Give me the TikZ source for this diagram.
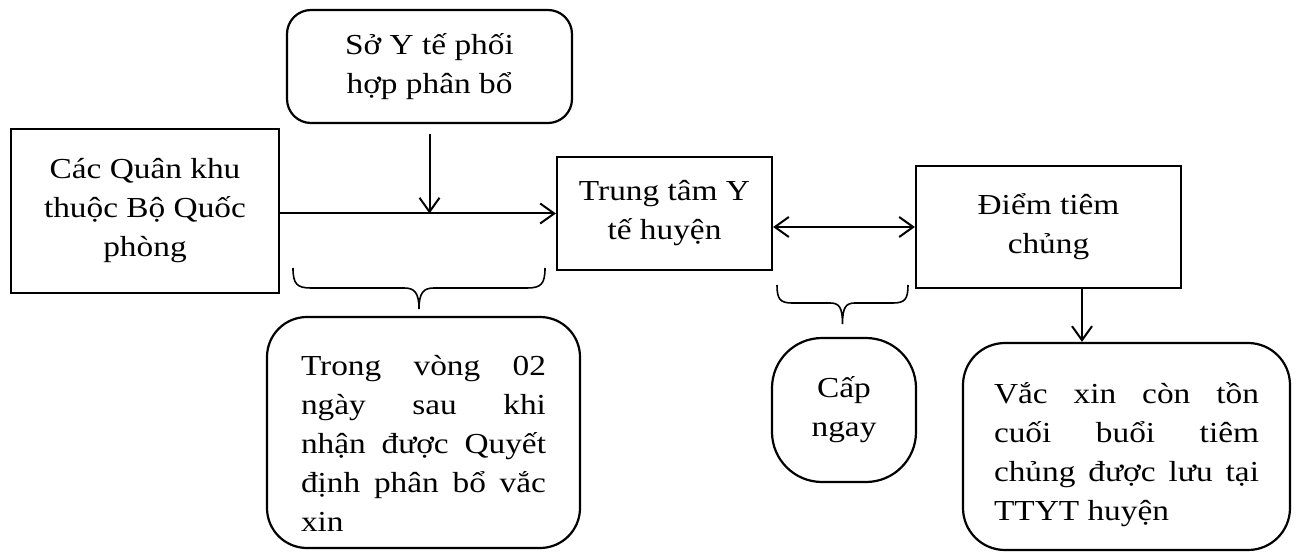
\documentclass[tikz,border=0pt]{standalone}
\usepackage{fontspec}
\setmainfont{Liberation Serif}[FakeStretch=1.15]
\usetikzlibrary{arrows.meta}
\begin{document}
\begin{tikzpicture}[x=1pt,y=-1pt,
  every node/.style={font=\fontsize{29}{39}\selectfont, inner sep=0pt, line width=2.2pt},
  sqbox/.style={draw, rectangle, align=center},
  rbox/.style={draw, rectangle, rounded corners=#1},
  tipv/.tip={Straight Barb[length=14pt,width=20pt,line width=2pt]},
  arr/.style={line width=2pt, -tipv},
  arrboth/.style={line width=2pt, tipv-tipv},
  bracestyle/.style={line width=1.6pt}
]
\useasboundingbox (0,0) rectangle (1299,556);

\node[rbox=24pt, align=center, minimum width=285pt, minimum height=113pt] (s) at (429.5,66.5) {Sở Y tế phối\\hợp phân bổ};
\node[sqbox, minimum width=268pt, minimum height=164pt] (q) at (145,211) {Các Quân khu\\thuộc Bộ Quốc\\phòng};
\node[sqbox, minimum width=215pt, minimum height=113pt] (t) at (664.5,213.5) {Trung tâm Y\\tế huyện};
\node[sqbox, minimum width=265pt, minimum height=122pt] (d) at (1048.5,227) {Điểm tiêm\\chủng};
\node[rbox=40pt, minimum width=313pt, minimum height=231pt] (w) at (423.5,432.5)
  {\raisebox{-19pt}[0pt][0pt]{\begin{tabular}{@{}l@{}}
   \makebox[245pt][s]{Trong vòng 02}\\
   \makebox[245pt][s]{ngày sau khi}\\
   \makebox[245pt][s]{nhận được Quyết}\\
   \makebox[245pt][s]{định phân bổ vắc}\\
   \makebox[245pt][l]{xin}\end{tabular}}};
\node[rbox=50pt, align=center, minimum width=144pt, minimum height=144pt] (c) at (844,410) {Cấp\\ngay};
\node[rbox=42pt, minimum width=327pt, minimum height=207pt] (v) at (1126.5,446.5)
  {\raisebox{-14pt}[0pt][0pt]{\begin{tabular}{@{}l@{}}
   \makebox[265pt][s]{Vắc xin còn tồn}\\
   \makebox[265pt][s]{cuối buổi tiêm}\\
   \makebox[265pt][s]{chủng được lưu tại}\\
   \makebox[265pt][l]{TTYT huyện}\end{tabular}}};

% connectors
\coordinate (j) at (s.south |- t.west);
\draw[arr] ([yshift=-10pt]s.south) -- (j);
\draw[arr] (q.east |- t.west) -- (t.west);
\draw[arrboth] (t.east |- d.west) -- (d.west);
\draw[arr] ([xshift=33.5pt]d.south) -- ([xshift=33.5pt]d.south |- v.north);

% braces
\coordinate (b1l) at (293,268);
\coordinate (b1r) at (545,268);
\coordinate (b1t) at (419,309);
\coordinate (b2l) at (777,285);
\coordinate (b2r) at (908,285);
\coordinate (b2t) at (842.5,324);
\draw[bracestyle] (b1l) .. controls (293,284) and (297,288) .. (311,288) -- (404,288)
  .. controls (414,288) and (419,292) .. (b1t)
  .. controls (419,292) and (424,288) .. (434,288) -- (527,288)
  .. controls (541,288) and (545,284) .. (b1r);
\draw[bracestyle] (b2l) .. controls (777,299) and (780,303) .. (792,303) -- (830,303)
  .. controls (839,303) and (842.5,307) .. (b2t)
  .. controls (842.5,307) and (846,303) .. (855,303) -- (893,303)
  .. controls (905,303) and (908,299) .. (b2r);
\end{tikzpicture}
\end{document}
